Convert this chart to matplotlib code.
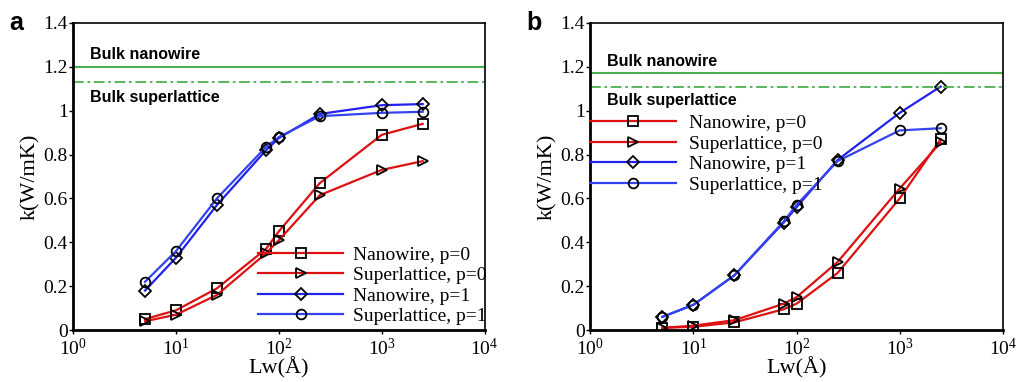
import matplotlib
matplotlib.use('Agg')
import matplotlib.pyplot as plt

# data
lw = [5, 10, 25, 75, 100, 250, 1000, 2500]

a_nw_p0 = [0.05, 0.09, 0.19, 0.37, 0.45, 0.67, 0.89, 0.94]
a_sl_p0 = [0.04, 0.07, 0.16, 0.35, 0.41, 0.615, 0.73, 0.77]
a_nw_p1 = [0.18, 0.33, 0.57, 0.82, 0.875, 0.985, 1.025, 1.03]
a_sl_p1 = [0.22, 0.36, 0.60, 0.835, 0.88, 0.975, 0.99, 0.995]
a_bulk = [1.20, 1.13]

b_nw_p0 = [0.01, 0.015, 0.035, 0.095, 0.12, 0.26, 0.60, 0.87]
b_sl_p0 = [0.01, 0.02, 0.045, 0.12, 0.15, 0.31, 0.645, 0.855]
b_nw_p1 = [0.06, 0.115, 0.25, 0.49, 0.56, 0.775, 0.99, 1.11]
b_sl_p1 = [0.06, 0.115, 0.25, 0.495, 0.57, 0.77, 0.91, 0.92]
b_bulk = [1.17, 1.11]

labels = ['Nanowire, p=0', 'Superlattice, p=0', 'Nanowire, p=1', 'Superlattice, p=1']
markers = ['s', '>', 'D', 'o']
colors = ['#dd1111', '#dd1111', '#2222ee', '#3344ee']

serif = 'Liberation Serif'
sans = 'Liberation Sans'


def panel(ax, series, bulk, letter, txt_y, leg_loc, leg_anchor, pad):
    for ys, lab, m, c in zip(series, labels, markers, colors):
        ms = 6 if m == 'D' else 7
        ax.plot(lw, ys, color=c, lw=1.6, marker=m, ms=ms, mfc='none',
                mec='black', mew=1.3, label=lab)
    ax.axhline(bulk[0], color='#4caf50', lw=1.5)
    ax.axhline(bulk[1], color='#4caf50', lw=1.3, ls=(0, (6, 2, 1.5, 2)))
    ax.text(1.45, txt_y[0], 'Bulk nanowire', fontfamily=sans, fontweight='bold', fontsize=11.5)
    ax.text(1.45, txt_y[1], 'Bulk superlattice', fontfamily=sans, fontweight='bold', fontsize=11.5)

    ax.set_xscale('log')
    ax.set_xlim(1, 1e4)
    ax.set_ylim(0, 1.4)
    ax.set_yticks([0, 0.2, 0.4, 0.6, 0.8, 1.0, 1.2, 1.4])
    ax.set_yticklabels(['0', '0.2', '0.4', '0.6', '0.8', '1', '1.2', '1.4'])
    ax.minorticks_off()
    ax.tick_params(direction='out', length=3, width=1, labelsize=14, pad=1)
    ax.tick_params(axis='x', pad=2.5)
    for t in ax.get_xticklabels() + ax.get_yticklabels():
        t.set_fontfamily(serif)
    ax.set_xlabel('Lw(Å)', fontfamily=serif, fontsize=16, labelpad=-1)
    ax.set_ylabel('k(W/mK)', fontfamily=serif, fontsize=16, labelpad=2)
    for s in ['left', 'bottom']:
        ax.spines[s].set_linewidth(2)
    for s in ['top', 'right']:
        ax.spines[s].set_linewidth(1.2)

    ax.legend(loc=leg_loc, bbox_to_anchor=leg_anchor, frameon=False,
              numpoints=1, handlelength=4.4, handletextpad=pad,
              labelspacing=0.15, borderpad=0, borderaxespad=0,
              prop={'family': serif, 'size': 14})
    ax.text(-0.155, 1.0, letter, transform=ax.transAxes, fontfamily=sans,
            fontweight='bold', fontsize=18, va='center')


fig = plt.figure(figsize=(10.16, 3.82), dpi=100)
ax1 = fig.add_axes([0.072, 0.136, 0.405, 0.804])
ax2 = fig.add_axes([0.581, 0.136, 0.406, 0.804])

panel(ax1, [a_nw_p0, a_sl_p0, a_nw_p1, a_sl_p1], a_bulk, 'a', (1.235, 1.04),
      'lower right', (1.005, 0.016), 0.5)
panel(ax2, [b_nw_p0, b_sl_p0, b_nw_p1, b_sl_p1], b_bulk, 'b', (1.205, 1.025),
      'upper left', (0.0, 0.702), 0.7)

fig.savefig('out.png', dpi=100)
